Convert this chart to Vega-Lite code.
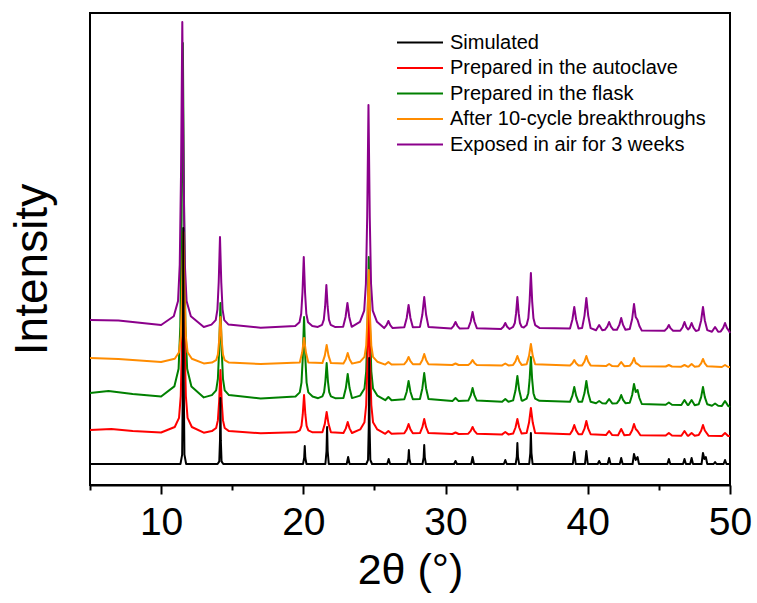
{
  "$schema": "https://vega.github.io/schema/vega-lite/v6.json",
  "width": 640,
  "height": 472,
  "autosize": {"type": "none"},
  "padding": {"left": 90, "top": 13, "right": 27, "bottom": 118},
  "background": "white",
  "config": {
    "font": "Liberation Sans",
    "view": {"stroke": "black", "strokeWidth": 2},
    "legend": {"labelFont": "Liberation Sans"}
  },
  "datasets": {
    "k": [
      {"x":5,"y":21},
      {"x":11.36,"y":21},{"x":11.48,"y":30.4},{"x":11.53,"y":103.6},{"x":11.56,"y":257},{"x":11.59,"y":103.6},{"x":11.64,"y":30.4},{"x":11.76,"y":21},
      {"x":13.97,"y":21},{"x":14.09,"y":23.6},{"x":14.14,"y":44.1},{"x":14.17,"y":87},{"x":14.2,"y":44.1},{"x":14.25,"y":23.6},{"x":14.37,"y":21},
      {"x":19.98,"y":21},{"x":20.06,"y":27.3},{"x":20.1,"y":39},{"x":20.14,"y":27.3},{"x":20.22,"y":21},
      {"x":21.55,"y":21},{"x":21.63,"y":34},{"x":21.67,"y":58},{"x":21.71,"y":34},{"x":21.79,"y":21},
      {"x":23.05,"y":21},{"x":23.15,"y":28},{"x":23.25,"y":21},
      {"x":24.43,"y":21},{"x":24.55,"y":25.2},{"x":24.6,"y":58.1},{"x":24.63,"y":127},{"x":24.66,"y":58.1},{"x":24.71,"y":25.2},{"x":24.83,"y":21},
      {"x":25.9,"y":21},{"x":26.0,"y":26},{"x":26.1,"y":21},
      {"x":27.3,"y":21},{"x":27.38,"y":25.9},{"x":27.42,"y":35},{"x":27.46,"y":25.9},{"x":27.54,"y":21},
      {"x":28.38,"y":21},{"x":28.46,"y":27.7},{"x":28.5,"y":40},{"x":28.54,"y":27.7},{"x":28.62,"y":21},
      {"x":30.6,"y":21},{"x":30.7,"y":24},{"x":30.8,"y":21},
      {"x":31.8,"y":21},{"x":31.9,"y":28},{"x":32.0,"y":21},
      {"x":34.1,"y":21},{"x":34.2,"y":25},{"x":34.3,"y":21},
      {"x":34.93,"y":21},{"x":35.01,"y":28.4},{"x":35.05,"y":42},{"x":35.09,"y":28.4},{"x":35.17,"y":21},
      {"x":35.88,"y":21},{"x":35.96,"y":31.9},{"x":36.0,"y":52},{"x":36.04,"y":31.9},{"x":36.12,"y":21},
      {"x":38.95,"y":21},{"x":39.05,"y":33},{"x":39.15,"y":21},
      {"x":39.8,"y":21},{"x":39.9,"y":34},{"x":40.0,"y":21},
      {"x":40.7,"y":21},{"x":40.8,"y":24},{"x":40.9,"y":21},
      {"x":41.4,"y":21},{"x":41.5,"y":27},{"x":41.6,"y":21},
      {"x":42.25,"y":21},{"x":42.35,"y":27},{"x":42.45,"y":21},
      {"x":43.15,"y":21},{"x":43.25,"y":31},{"x":43.37,"y":25},{"x":43.5,"y":28},{"x":43.6,"y":21},
      {"x":45.6,"y":21},{"x":45.7,"y":26},{"x":45.8,"y":21},
      {"x":46.7,"y":21},{"x":46.8,"y":26},{"x":46.9,"y":21},
      {"x":47.2,"y":21},{"x":47.3,"y":27},{"x":47.4,"y":21},
      {"x":48.0,"y":21},{"x":48.1,"y":32},{"x":48.2,"y":26},{"x":48.3,"y":28},{"x":48.4,"y":21},
      {"x":48.85,"y":21},{"x":48.95,"y":23},{"x":49.05,"y":21},
      {"x":49.55,"y":21},{"x":49.65,"y":25},{"x":49.75,"y":21},
      {"x":50,"y":21}
    ],
    "r": [
      {"x":5,"y":55},{"x":6.5,"y":56},{"x":8,"y":54},{"x":10,"y":52.5},
      {"x":10.96,"y":58},{"x":11.26,"y":67.1},{"x":11.38,"y":89},{"x":11.47,"y":143.8},{"x":11.56,"y":235},{"x":11.65,"y":143.8},{"x":11.74,"y":89},{"x":11.86,"y":67.1},{"x":12.16,"y":58},
      {"x":13,"y":52.3},
      {"x":13.57,"y":53.9},{"x":13.87,"y":57},{"x":13.99,"y":64.6},{"x":14.08,"y":83.5},{"x":14.17,"y":115},{"x":14.26,"y":83.5},{"x":14.35,"y":64.6},{"x":14.47,"y":57},{"x":14.77,"y":53.9},
      {"x":17,"y":51.8},
      {"x":19.45,"y":52.7},{"x":19.75,"y":54.6},{"x":19.87,"y":59.2},{"x":19.96,"y":70.8},{"x":20.05,"y":90},{"x":20.14,"y":70.8},{"x":20.23,"y":59.2},{"x":20.35,"y":54.6},{"x":20.65,"y":52.7},
      {"x":21.34,"y":52.7},{"x":21.51,"y":61.1},{"x":21.64,"y":73},{"x":21.77,"y":61.1},{"x":21.94,"y":52.7},
      {"x":22.82,"y":52},{"x":22.99,"y":56.6},{"x":23.12,"y":63},{"x":23.25,"y":56.6},{"x":23.42,"y":52},
      {"x":24.0,"y":55.6},{"x":24.3,"y":62.8},{"x":24.42,"y":80},{"x":24.51,"y":123.2},{"x":24.6,"y":195},{"x":24.69,"y":123.2},{"x":24.78,"y":80},{"x":24.9,"y":62.8},{"x":25.2,"y":55.6},
      {"x":25.76,"y":51.2},{"x":25.98,"y":54},{"x":26.2,"y":51.2},
      {"x":27.1,"y":51.7},{"x":27.27,"y":55.6},{"x":27.4,"y":61},{"x":27.53,"y":55.6},{"x":27.7,"y":51.7},
      {"x":28.2,"y":51.9},{"x":28.37,"y":57.8},{"x":28.5,"y":66},{"x":28.63,"y":57.8},{"x":28.8,"y":51.9},
      {"x":30.48,"y":51},{"x":30.7,"y":52.5},{"x":30.92,"y":51},
      {"x":31.6,"y":51.3},{"x":31.77,"y":54.1},{"x":31.9,"y":58},{"x":32.03,"y":54.1},{"x":32.2,"y":51.3},
      {"x":33.98,"y":50.6},{"x":34.2,"y":53},{"x":34.42,"y":50.6},
      {"x":34.75,"y":51.4},{"x":34.92,"y":57.5},{"x":35.05,"y":66},{"x":35.18,"y":57.5},{"x":35.35,"y":51.4},
      {"x":35.7,"y":52},{"x":35.87,"y":62.4},{"x":36.0,"y":77},{"x":36.13,"y":62.4},{"x":36.3,"y":52},
      {"x":38.75,"y":50.7},{"x":38.92,"y":54.6},{"x":39.05,"y":60},{"x":39.18,"y":54.6},{"x":39.35,"y":50.7},
      {"x":39.6,"y":50.8},{"x":39.77,"y":56.3},{"x":39.9,"y":64},{"x":40.03,"y":56.3},{"x":40.2,"y":50.8},
      {"x":41.28,"y":49.9},{"x":41.5,"y":54},{"x":41.72,"y":49.9},
      {"x":42.13,"y":49.8},{"x":42.35,"y":56},{"x":42.57,"y":49.8},
      {"x":42.95,"y":50.3},{"x":43.12,"y":54.7},{"x":43.25,"y":61},{"x":43.37,"y":56},{"x":43.5,"y":54},{"x":43.7,"y":49.7},
      {"x":45.48,"y":49.4},{"x":45.7,"y":52},{"x":45.92,"y":49.4},
      {"x":46.58,"y":49.3},{"x":46.8,"y":54},{"x":47.02,"y":49.3},
      {"x":47.08,"y":49.3},{"x":47.3,"y":52},{"x":47.52,"y":49.3},
      {"x":47.8,"y":49.9},{"x":47.97,"y":54.2},{"x":48.1,"y":60},{"x":48.23,"y":54.5},{"x":48.5,"y":49.2},
      {"x":49.43,"y":49},{"x":49.65,"y":52},{"x":49.87,"y":49},
      {"x":50,"y":49}
    ],
    "g": [
      {"x":5,"y":92},{"x":6.3,"y":94},{"x":8,"y":91},{"x":10,"y":88.5},
      {"x":10.93,"y":98.6},{"x":11.23,"y":116.3},{"x":11.35,"y":158.8},{"x":11.44,"y":265},{"x":11.53,"y":442},{"x":11.62,"y":265},{"x":11.71,"y":158.8},{"x":11.83,"y":116.3},{"x":12.13,"y":98.6},
      {"x":13,"y":87.6},
      {"x":13.57,"y":89.9},{"x":13.87,"y":94.6},{"x":13.99,"y":106},{"x":14.08,"y":134.5},{"x":14.17,"y":182},{"x":14.26,"y":134.5},{"x":14.35,"y":106},{"x":14.47,"y":94.6},{"x":14.77,"y":89.9},
      {"x":17,"y":86.6},
      {"x":19.45,"y":88.5},{"x":19.75,"y":92.6},{"x":19.87,"y":102.4},{"x":19.96,"y":127},{"x":20.05,"y":168},{"x":20.14,"y":127},{"x":20.23,"y":102.4},{"x":20.35,"y":92.6},{"x":20.65,"y":88.5},
      {"x":21.04,"y":86.8},{"x":21.34,"y":88.6},{"x":21.46,"y":92.9},{"x":21.55,"y":103.7},{"x":21.64,"y":122},{"x":21.73,"y":103.7},{"x":21.82,"y":92.9},{"x":21.94,"y":88.6},{"x":22.24,"y":86.8},
      {"x":22.82,"y":86.9},{"x":22.99,"y":96.9},{"x":23.12,"y":111},{"x":23.25,"y":96.9},{"x":23.42,"y":86.9},
      {"x":24.0,"y":89.4},{"x":24.3,"y":96.5},{"x":24.42,"y":113.7},{"x":24.51,"y":156.6},{"x":24.6,"y":228},{"x":24.69,"y":156.6},{"x":24.78,"y":113.7},{"x":24.9,"y":96.5},{"x":25.2,"y":89.4},
      {"x":25.76,"y":84.8},{"x":25.98,"y":88},{"x":26.2,"y":84.8},
      {"x":27.1,"y":85.7},{"x":27.27,"y":93.3},{"x":27.4,"y":104},{"x":27.53,"y":93.3},{"x":27.7,"y":85.7},
      {"x":28.2,"y":86},{"x":28.37,"y":96.8},{"x":28.5,"y":112},{"x":28.63,"y":96.8},{"x":28.8,"y":86},
      {"x":30.48,"y":83.9},{"x":30.7,"y":87},{"x":30.92,"y":83.9},
      {"x":31.6,"y":84.4},{"x":31.77,"y":89.6},{"x":31.9,"y":97},{"x":32.03,"y":89.6},{"x":32.2,"y":84.4},
      {"x":33.98,"y":83.2},{"x":34.2,"y":86},{"x":34.42,"y":83.2},
      {"x":34.75,"y":84.6},{"x":34.92,"y":94.7},{"x":35.05,"y":109},{"x":35.18,"y":94.7},{"x":35.35,"y":84.6},
      {"x":35.4,"y":84.2},{"x":35.7,"y":86.4},{"x":35.82,"y":91.8},{"x":35.91,"y":105.3},{"x":36.0,"y":128},{"x":36.09,"y":105.3},{"x":36.18,"y":91.8},{"x":36.3,"y":86.4},{"x":36.6,"y":84.2},
      {"x":38.75,"y":83.2},{"x":38.92,"y":89.4},{"x":39.05,"y":98},{"x":39.18,"y":89.4},{"x":39.35,"y":83.2},
      {"x":39.6,"y":83.3},{"x":39.77,"y":91.9},{"x":39.9,"y":104},{"x":40.03,"y":91.9},{"x":40.2,"y":83.3},
      {"x":40.58,"y":81.8},{"x":40.8,"y":84},{"x":41.02,"y":81.8},
      {"x":41.28,"y":81.6},{"x":41.5,"y":86},{"x":41.72,"y":81.6},
      {"x":42.05,"y":81.8},{"x":42.22,"y":85.2},{"x":42.35,"y":90},{"x":42.48,"y":85.2},{"x":42.65,"y":81.8},
      {"x":42.95,"y":82.2},{"x":43.12,"y":90},{"x":43.25,"y":101},{"x":43.37,"y":93},{"x":43.5,"y":95},{"x":43.63,"y":87},{"x":43.8,"y":81},
      {"x":45.48,"y":80.3},{"x":45.7,"y":82.5},{"x":45.92,"y":80.3},
      {"x":46.58,"y":80},{"x":46.8,"y":85},{"x":47.02,"y":80},
      {"x":47.08,"y":79.9},{"x":47.3,"y":85},{"x":47.52,"y":79.8},
      {"x":47.8,"y":80.7},{"x":47.97,"y":87.9},{"x":48.1,"y":98},{"x":48.23,"y":87.9},{"x":48.4,"y":80.7},
      {"x":48.73,"y":79.3},{"x":48.95,"y":81.5},{"x":49.17,"y":79.3},
      {"x":49.43,"y":79.1},{"x":49.65,"y":84},{"x":49.87,"y":79.1},
      {"x":50,"y":78}
    ],
    "o": [
      {"x":5,"y":127},{"x":7,"y":126},{"x":10,"y":123},
      {"x":10.96,"y":126.3},{"x":11.26,"y":132.8},{"x":11.38,"y":148.5},{"x":11.47,"y":187.7},{"x":11.56,"y":253},{"x":11.65,"y":187.7},{"x":11.74,"y":148.5},{"x":11.86,"y":132.8},{"x":12.16,"y":126.3},
      {"x":13,"y":121.6},
      {"x":13.57,"y":122.4},{"x":13.87,"y":124.8},{"x":13.99,"y":130.4},{"x":14.08,"y":144.5},{"x":14.17,"y":168},{"x":14.26,"y":144.5},{"x":14.35,"y":130.4},{"x":14.47,"y":124.8},{"x":14.77,"y":122.4},
      {"x":17,"y":121},
      {"x":19.75,"y":122.6},{"x":19.92,"y":132.7},{"x":20.05,"y":147},{"x":20.18,"y":132.7},{"x":20.35,"y":122.6},
      {"x":21.34,"y":121.9},{"x":21.51,"y":129.4},{"x":21.64,"y":140},{"x":21.77,"y":129.4},{"x":21.94,"y":121.9},
      {"x":22.82,"y":121.4},{"x":22.99,"y":125.7},{"x":23.12,"y":132},{"x":23.25,"y":125.7},{"x":23.42,"y":121.4},
      {"x":24.0,"y":123.3},{"x":24.3,"y":128.1},{"x":24.42,"y":139.4},{"x":24.51,"y":167.8},{"x":24.6,"y":215},{"x":24.69,"y":167.8},{"x":24.78,"y":139.4},{"x":24.9,"y":128.1},{"x":25.2,"y":123.3},
      {"x":25.76,"y":120.4},{"x":25.98,"y":123},{"x":26.2,"y":120.4},
      {"x":27.1,"y":120.8},{"x":27.27,"y":123.8},{"x":27.4,"y":128},{"x":27.53,"y":123.8},{"x":27.7,"y":120.8},
      {"x":28.2,"y":120.8},{"x":28.37,"y":125.1},{"x":28.5,"y":131},{"x":28.63,"y":125.1},{"x":28.8,"y":120.8},
      {"x":30.48,"y":120},{"x":30.7,"y":121.5},{"x":30.92,"y":120},
      {"x":31.6,"y":120.1},{"x":31.77,"y":122.1},{"x":31.9,"y":125},{"x":32.03,"y":122.1},{"x":32.2,"y":120.1},
      {"x":33.98,"y":119.6},{"x":34.2,"y":121.5},{"x":34.42,"y":119.6},
      {"x":34.75,"y":120.1},{"x":34.92,"y":123.8},{"x":35.05,"y":129},{"x":35.18,"y":123.8},{"x":35.35,"y":120.1},
      {"x":35.7,"y":120.7},{"x":35.87,"y":129.1},{"x":36.0,"y":141},{"x":36.13,"y":129.1},{"x":36.3,"y":120.7},
      {"x":38.75,"y":119.5},{"x":38.92,"y":121.8},{"x":39.05,"y":125},{"x":39.18,"y":121.8},{"x":39.35,"y":119.5},
      {"x":39.6,"y":119.6},{"x":39.77,"y":123.5},{"x":39.9,"y":129},{"x":40.03,"y":123.5},{"x":40.2,"y":119.6},
      {"x":41.28,"y":118.9},{"x":41.5,"y":121},{"x":41.72,"y":118.9},
      {"x":42.13,"y":118.8},{"x":42.35,"y":123},{"x":42.57,"y":118.8},
      {"x":42.95,"y":119.2},{"x":43.12,"y":122.3},{"x":43.25,"y":127},{"x":43.37,"y":122},{"x":43.5,"y":121},{"x":43.7,"y":118.7},
      {"x":45.48,"y":118.5},{"x":45.7,"y":120},{"x":45.92,"y":118.5},
      {"x":46.58,"y":118.3},{"x":46.8,"y":120},{"x":47.02,"y":118.3},
      {"x":47.08,"y":118.3},{"x":47.3,"y":121},{"x":47.52,"y":118.3},
      {"x":47.8,"y":118.7},{"x":47.97,"y":121.7},{"x":48.1,"y":126},{"x":48.23,"y":121.7},{"x":48.4,"y":118.7},
      {"x":49.43,"y":118},{"x":49.65,"y":120},{"x":49.87,"y":118},
      {"x":50,"y":118}
    ],
    "p": [
      {"x":5,"y":165},{"x":7,"y":164.5},{"x":10,"y":160},
      {"x":10.89,"y":168.8},{"x":11.19,"y":183.9},{"x":11.31,"y":220.3},{"x":11.4,"y":311.2},{"x":11.49,"y":463},{"x":11.58,"y":311.2},{"x":11.67,"y":220.3},{"x":11.79,"y":183.9},{"x":12.09,"y":168.8},
      {"x":13,"y":158},
      {"x":13.54,"y":160.4},{"x":13.84,"y":164.9},{"x":13.96,"y":175.7},{"x":14.05,"y":202.7},{"x":14.14,"y":248},{"x":14.23,"y":202.7},{"x":14.32,"y":175.7},{"x":14.44,"y":164.9},{"x":14.74,"y":160.4},
      {"x":17,"y":157.3},
      {"x":19.43,"y":159.1},{"x":19.73,"y":162.7},{"x":19.85,"y":171.2},{"x":19.94,"y":192.5},{"x":20.03,"y":228},{"x":20.12,"y":192.5},{"x":20.21,"y":171.2},{"x":20.33,"y":162.7},{"x":20.63,"y":159.1},
      {"x":21.02,"y":158.1},{"x":21.32,"y":160.2},{"x":21.44,"y":165.4},{"x":21.53,"y":178.3},{"x":21.62,"y":200},{"x":21.71,"y":178.3},{"x":21.8,"y":165.4},{"x":21.92,"y":160.2},{"x":22.22,"y":158.1},
      {"x":22.8,"y":158.2},{"x":22.97,"y":168},{"x":23.1,"y":182},{"x":23.23,"y":168},{"x":23.4,"y":158.2},
      {"x":23.98,"y":163.2},{"x":24.28,"y":174.4},{"x":24.4,"y":201.2},{"x":24.49,"y":268.3},{"x":24.58,"y":380},{"x":24.67,"y":268.3},{"x":24.76,"y":201.2},{"x":24.88,"y":174.4},{"x":25.18,"y":163.2},
      {"x":25.68,"y":156.9},{"x":25.85,"y":159.8},{"x":25.98,"y":164},{"x":26.11,"y":159.8},{"x":26.28,"y":156.9},
      {"x":27.1,"y":157.7},{"x":27.27,"y":167},{"x":27.4,"y":180},{"x":27.53,"y":167},{"x":27.7,"y":157.7},
      {"x":28.2,"y":158.1},{"x":28.37,"y":170.5},{"x":28.5,"y":188},{"x":28.63,"y":170.5},{"x":28.8,"y":158.1},
      {"x":30.4,"y":156.4},{"x":30.57,"y":159.2},{"x":30.7,"y":163},{"x":30.83,"y":159.2},{"x":31.0,"y":156.4},
      {"x":31.6,"y":156.8},{"x":31.77,"y":163.5},{"x":31.9,"y":173},{"x":32.03,"y":163.5},{"x":32.2,"y":156.8},
      {"x":33.9,"y":156},{"x":34.07,"y":158.3},{"x":34.2,"y":162},{"x":34.33,"y":158.3},{"x":34.5,"y":156},
      {"x":34.75,"y":158.1},{"x":34.87,"y":162},{"x":34.96,"y":171.8},{"x":35.05,"y":188},{"x":35.14,"y":171.8},{"x":35.23,"y":162},{"x":35.35,"y":158.1},{"x":35.5,"y":157.5},
      {"x":35.7,"y":159.9},{"x":35.82,"y":166.7},{"x":35.91,"y":183.7},{"x":36.0,"y":212},{"x":36.09,"y":183.7},{"x":36.18,"y":166.7},{"x":36.3,"y":159.9},{"x":36.6,"y":157.1},
      {"x":38.75,"y":156.5},{"x":38.92,"y":165.5},{"x":39.05,"y":178},{"x":39.18,"y":165.5},{"x":39.35,"y":156.5},
      {"x":39.6,"y":156.9},{"x":39.77,"y":169.4},{"x":39.9,"y":187},{"x":40.03,"y":169.4},{"x":40.2,"y":156.9},
      {"x":40.58,"y":154.8},{"x":40.8,"y":160},{"x":41.02,"y":154.8},
      {"x":41.2,"y":155.2},{"x":41.37,"y":158.3},{"x":41.5,"y":163},{"x":41.63,"y":158.3},{"x":41.8,"y":155.2},
      {"x":42.05,"y":155.3},{"x":42.22,"y":160.1},{"x":42.35,"y":167},{"x":42.48,"y":160.1},{"x":42.65,"y":155.3},
      {"x":42.95,"y":156},{"x":43.12,"y":166},{"x":43.25,"y":181},{"x":43.37,"y":168},{"x":43.5,"y":165},{"x":43.63,"y":159},{"x":43.8,"y":154.4},
      {"x":45.4,"y":154.3},{"x":45.57,"y":156.6},{"x":45.7,"y":160},{"x":45.83,"y":156.6},{"x":46.0,"y":154.3},
      {"x":46.5,"y":154.2},{"x":46.67,"y":157.8},{"x":46.8,"y":163},{"x":46.93,"y":157.8},{"x":47.05,"y":155.5},
      {"x":47.17,"y":157.3},{"x":47.3,"y":162},{"x":47.43,"y":157.3},{"x":47.6,"y":154},
      {"x":47.8,"y":154.9},{"x":47.97,"y":164.5},{"x":48.1,"y":178},{"x":48.23,"y":164.5},{"x":48.4,"y":154.9},
      {"x":48.73,"y":153.2},{"x":48.95,"y":158},{"x":49.17,"y":153.2},
      {"x":49.35,"y":153.6},{"x":49.52,"y":157.1},{"x":49.65,"y":162},{"x":49.78,"y":157.1},{"x":49.95,"y":153.6},
      {"x":50,"y":152}
    ]
  },
  "encoding": {
    "x": {
      "field": "x", "type": "quantitative",
      "scale": {"domain": [5, 50], "nice": false, "zero": false},
      "axis": {
        "values": [5, 10, 15, 20, 25, 30, 35, 40, 45, 50],
        "labelExpr": "datum.value % 10 === 0 ? datum.label : ''",
        "tickSize": {"condition": {"test": "datum.value % 10 === 0", "value": 9}, "value": 5},
        "tickWidth": 2, "tickColor": "black",
        "labelFontSize": 39, "labelColor": "black", "labelBaseline": "alphabetic", "labelPadding": 40,
        "labelFlush": false, "labelOverlap": false, "labelFont": "Liberation Sans",
        "domainColor": "black", "domainWidth": 2, "grid": false,
        "title": "2θ (°)", "titleFontSize": 43, "titleFontWeight": "normal", "titleColor": "black",
        "titleBaseline": "alphabetic", "titleY": 98, "titleFont": "Liberation Sans"
      }
    },
    "y": {
      "field": "y", "type": "quantitative",
      "scale": {"domain": [0, 472], "nice": false, "zero": false},
      "axis": {
        "labels": false, "ticks": false, "domain": false, "grid": false,
        "title": "Intensity", "titleFontSize": 46, "titleFontWeight": "normal", "titleColor": "black",
        "titleBaseline": "alphabetic", "titleX": -44, "titleY": 256, "titleFont": "Liberation Sans"
      }
    }
  },
  "layer": [
    {
      "data": {"name": "g"},
      "mark": {"type": "line", "strokeWidth": 2, "strokeJoin": "round"},
      "encoding": {
        "color": {
          "datum": "Prepared in the flask",
          "scale": {
            "domain": ["Simulated", "Prepared in the autoclave", "Prepared in the flask", "After 10-cycle breakthroughs", "Exposed in air for 3 weeks"],
            "range": ["#000000", "#FF0000", "#008000", "#FF8C00", "#8B008B"]
          },
          "legend": {
            "title": null, "orient": "none", "legendX": 317.5, "legendY": 17,
            "symbolType": "M-2,0H2", "symbolSize": 529, "symbolStrokeWidth": 2,
            "labelFontSize": 20, "labelColor": "black", "labelOffset": 17.5, "rowPadding": 2.5,
            "padding": 0, "labelLimit": 400
          }
        }
      }
    },
    {
      "data": {"name": "p"},
      "mark": {"type": "line", "strokeWidth": 2, "strokeJoin": "round"},
      "encoding": {"color": {"datum": "Exposed in air for 3 weeks"}}
    },
    {
      "data": {"name": "r"},
      "mark": {"type": "line", "strokeWidth": 2, "strokeJoin": "round"},
      "encoding": {"color": {"datum": "Prepared in the autoclave"}}
    },
    {
      "data": {"name": "o"},
      "mark": {"type": "line", "strokeWidth": 2, "strokeJoin": "round"},
      "encoding": {"color": {"datum": "After 10-cycle breakthroughs"}}
    },
    {
      "data": {"name": "k"},
      "mark": {"type": "line", "strokeWidth": 2, "strokeJoin": "round"},
      "encoding": {"color": {"datum": "Simulated"}}
    }
  ]
}
